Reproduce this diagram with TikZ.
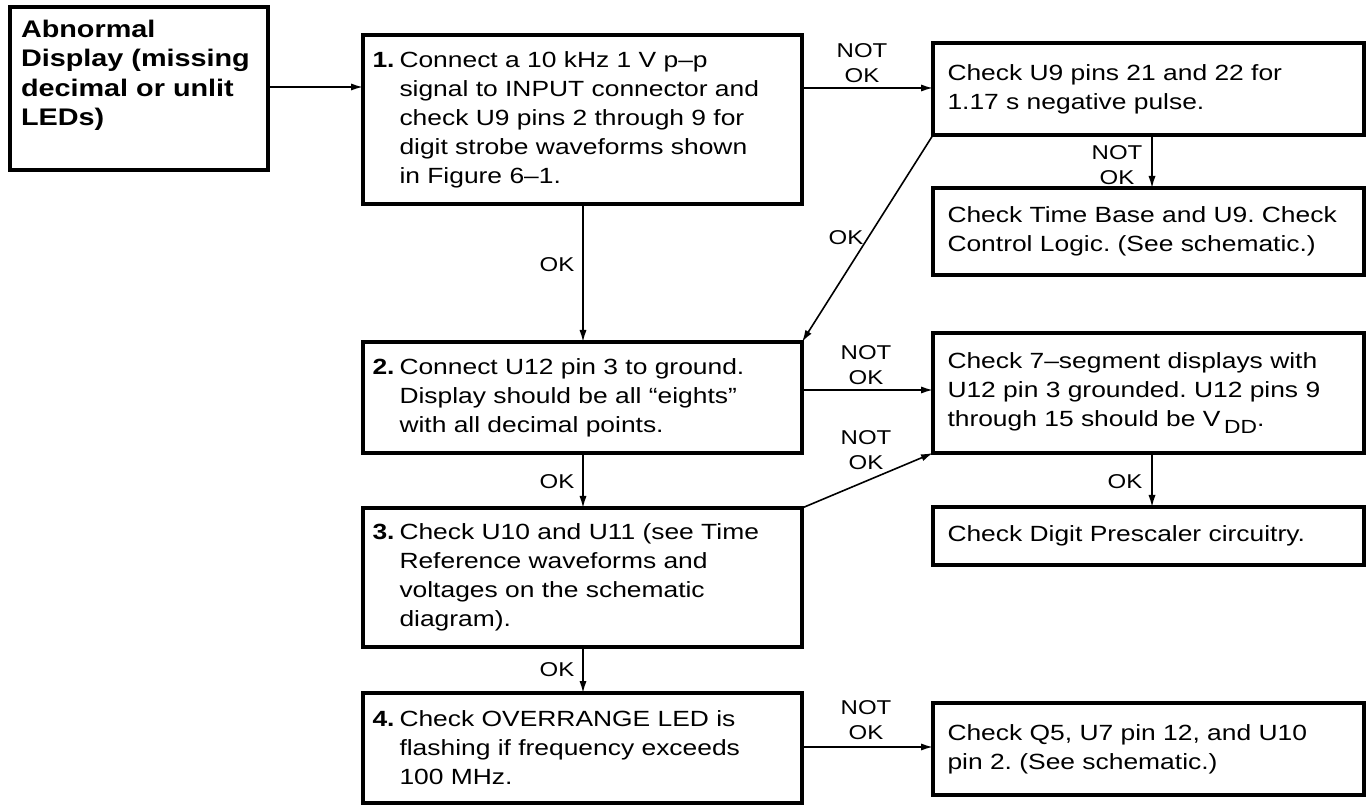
\documentclass[tikz,border=0pt]{standalone}
\usepackage{fontspec}
\setmainfont{Liberation Sans}[FakeStretch=1.2]
\usetikzlibrary{arrows.meta}
\newcommand{\numi}[2]{\hangindent=13.5pt\hangafter=1\makebox[13.5pt][l]{\bfseries #1}#2\par}
\begin{document}
\frenchspacing
\begin{tikzpicture}[x=0.5pt,y=-0.5pt,
  box/.style={draw, line width=1.8pt, rectangle, anchor=north west, outer sep=0pt, align=left, font=\fontsize{11}{14.5}\selectfont\frenchspacing},
  lbox/.style={box, minimum width=219.5pt, inner xsep=4.5pt, text width=210pt},
  rbox/.style={box, minimum width=215.5pt, inner xsep=7pt, text width=201pt},
  lbl/.style={inner sep=0pt, align=center, font=\fontsize{10}{12.5}\selectfont},
  arr/.style={line width=0.8pt, -{Latex[length=6pt,width=3.6pt]}},
]
\useasboundingbox (0,0) rectangle (1366,807);

\node[box, minimum width=129pt, minimum height=81.5pt, inner xsep=5.5pt, text width=118pt,
      font=\fontsize{12}{14.75}\selectfont\bfseries] (start) at (10,7)
  {Abnormal\\Display (missing\\decimal or unlit\\LEDs)\par\kern13pt};

\node[lbox, minimum height=84.5pt] (b1) at (363,35)
  {\numi{1.}{Connect a 10 kHz 1 V p--p\newline signal to INPUT connector and\newline check U9 pins 2 through 9 for\newline digit strobe waveforms shown\newline in Figure 6--1.}};
\node[rbox, minimum height=46pt] (u9) at (933,43)
  {Check U9 pins 21 and 22 for\\1.17 s negative pulse.};
\node[rbox, minimum height=43.5pt] (tb) at (933,188)
  {Check Time Base and U9. Check\\Control Logic. (See schematic.)};
\node[lbox, minimum height=55.5pt] (b2) at (363,342)
  {\numi{2.}{Connect U12 pin 3 to ground.\newline Display should be all “eights”\newline with all decimal points.}};
\node[rbox, minimum height=60pt] (seg) at (933,333)
  {Check 7--segment displays with\\U12 pin 3 grounded. U12 pins 9\\through 15 should be V\,\raisebox{-0.55ex}{\fontsize{9.5}{10}\selectfont DD}.};
\node[lbox, minimum height=69.5pt] (b3) at (363,508)
  {\numi{3.}{Check U10 and U11 (see Time\newline Reference waveforms and\newline voltages on the schematic\newline diagram).}};
\node[rbox, minimum height=29pt] (dp) at (933,507)
  {Check Digit Prescaler circuitry.};
\node[lbox, minimum height=55pt] (b4) at (363,693)
  {\numi{4.}{Check OVERRANGE LED is\newline flashing if frequency exceeds\newline 100 MHz.}};
\node[rbox, minimum height=46pt] (q5) at (933,703)
  {Check Q5, U7 pin 12, and U10\\pin 2. (See schematic.)};

\draw[arr] (start.east |- 0,87) -- (b1.west |- 0,87);
\draw[arr] (b1.east |- 0,88) -- (u9.west |- 0,88);
\draw[arr] (u9.south -| 1152,0) -- (tb.north -| 1152,0);
\draw[arr] (u9.south west) -- (b2.north east);
\draw[arr] (b1.south -| 583,0) -- (b2.north -| 583,0);
\draw[arr] (b2.east |- 0,390) -- (seg.west |- 0,390);
\draw[arr] (b2.south -| 583,0) -- (b3.north -| 583,0);
\draw[arr] (b3.north east) -- (seg.south west);
\draw[arr] (seg.south -| 1152,0) -- (dp.north -| 1152,0);
\draw[arr] (b3.south -| 583,0) -- (b4.north -| 583,0);
\draw[arr] (b4.east |- 0,747) -- (q5.west |- 0,747);

\node[lbl] (l1) at (862,63) {NOT\\OK};
\node[lbl] (l2) at (1117,165) {NOT\\OK};
\node[lbl] (l3) at (846,238) {OK};
\node[lbl] (l4) at (557,265) {OK};
\node[lbl] (l5) at (866,365) {NOT\\OK};
\node[lbl] (l6) at (866,450) {NOT\\OK};
\node[lbl] (l7) at (557,482) {OK};
\node[lbl] (l8) at (1125,482) {OK};
\node[lbl] (l9) at (557,670) {OK};
\node[lbl] (l10) at (866,720) {NOT\\OK};
\end{tikzpicture}
\end{document}
